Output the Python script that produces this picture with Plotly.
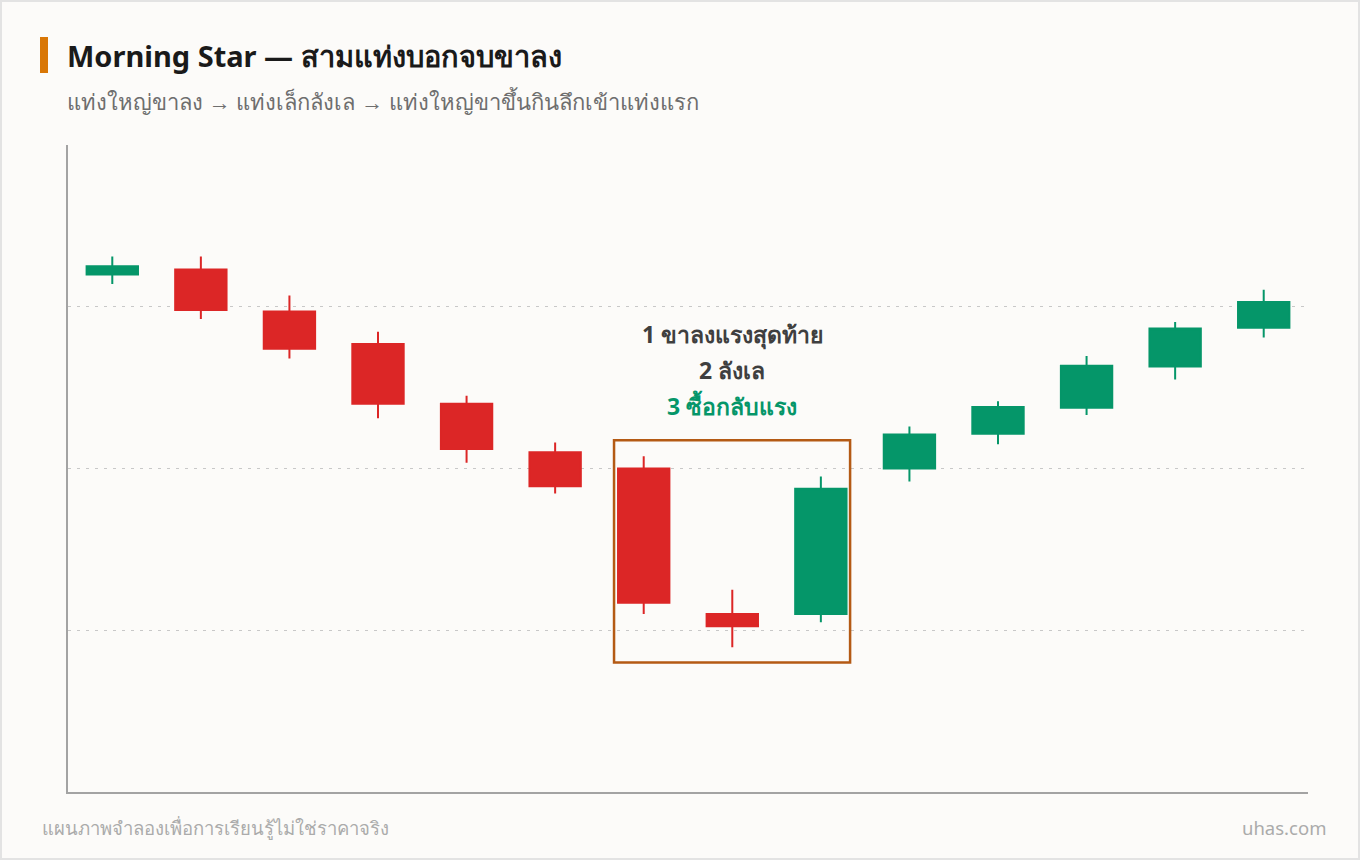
import plotly.graph_objects as go

# candle data (index 0..13)
idx = list(range(14))
opens = [112.0, 112.3, 109.7, 107.7, 104.0, 101.0, 100.0, 91.0, 91.0, 100.0, 102.15, 103.75, 106.3, 108.7]
highs = [113.1, 113.1, 110.7, 108.45, 104.5, 101.6, 100.75, 92.5, 99.5, 102.6, 104.15, 106.95, 109.05, 111.05]
lows = [111.4, 109.25, 106.8, 103.1, 100.35, 98.45, 91.0, 88.95, 90.5, 99.2, 101.5, 103.3, 105.5, 108.1]
closes = [112.5, 109.8, 107.4, 104.0, 101.2, 98.9, 91.7, 90.25, 98.75, 102.1, 103.8, 106.35, 108.65, 110.3]

pattern = [6, 7, 8]  # morning star candles
notes = ["1 ขาลงแรงสุดท้าย", "2 ลังเล", "3 ซื้อกลับแรง"]

title = "Morning Star — สามแท่งบอกจบขาลง"
subtitle = "แท่งใหญ่ขาลง → แท่งเล็กลังเล → แท่งใหญ่ขาขึ้นกินลึกเข้าแท่งแรก"
footer_l = "แผนภาพจำลองเพื่อการเรียนรู้ไม่ใช่ราคาจริง"
footer_r = "uhas.com"

RED = "#dc2626"
GREEN = "#059669"
BG = "#fcfbf9"
FONT = "Noto Sans, sans-serif"

W, H = 1360, 860
ML, MR, MT, MB = 68, 52, 145, 68
PW, PH = W - ML - MR, H - MT - MB

fig = go.Figure(go.Candlestick(
    x=idx, open=opens, high=highs, low=lows, close=closes,
    increasing=dict(line=dict(color=GREEN, width=2), fillcolor=GREEN),
    decreasing=dict(line=dict(color=RED, width=2), fillcolor=RED),
    whiskerwidth=0,
    hoverinfo="skip",
    showlegend=False,
))

# highlight box around the pattern
bx0 = min(pattern) - 0.335
bx1 = max(pattern) + 0.33
by0 = min(lows[i] for i in pattern) - 0.95
by1 = max(highs[i] for i in pattern) + 1.0
fig.add_shape(type="rect", x0=bx0, x1=bx1, y0=by0, y1=by1,
              line=dict(color="#b45a14", width=2.5), layer="above")

mid = pattern[1]
for k, (t, shift) in enumerate(zip(notes, [106, 70, 34])):
    fig.add_annotation(x=mid, y=by1, yshift=shift, text="<b>%s</b>" % t,
                       showarrow=False, yanchor="middle",
                       font=dict(size=23, family=FONT,
                                 color=GREEN if k == 2 else "#3f3f3f"))

# title marker bar
fig.add_shape(type="rect", xref="paper", yref="paper",
              x0=(40 - ML) / PW, x1=(48 - ML) / PW,
              y0=1 + (MT - 73) / PH, y1=1 + (MT - 37) / PH,
              fillcolor="#d97706", line=dict(width=0))

# outer frame
fig.add_shape(type="rect", xref="paper", yref="paper",
              x0=(1 - ML) / PW, x1=1 + (MR - 1) / PW,
              y0=-(MB - 1) / PH, y1=1 + (MT - 1) / PH,
              line=dict(color="#e3e3e3", width=2))

fig.add_annotation(xref="paper", yref="paper", x=(65 - ML) / PW, y=1 + (MT - 56) / PH,
                   text="<b>%s</b>" % title, showarrow=False, xanchor="left", yanchor="middle",
                   font=dict(size=29, family=FONT, color="#1a1a1a"))
fig.add_annotation(xref="paper", yref="paper", x=(65 - ML) / PW, y=1 + (MT - 101) / PH,
                   text=subtitle, showarrow=False, xanchor="left", yanchor="middle",
                   font=dict(size=22, family=FONT, color="#6e6e6e"))
fig.add_annotation(xref="paper", yref="paper", x=(40 - ML) / PW, y=-(827 - (H - MB)) / PH,
                   text=footer_l, showarrow=False, xanchor="left", yanchor="middle",
                   font=dict(size=18.5, family=FONT, color="#ababab"))
fig.add_annotation(xref="paper", yref="paper", x=1 + (1328 - (W - MR)) / PW, y=-(827 - (H - MB)) / PH,
                   text=footer_r, showarrow=False, xanchor="right", yanchor="middle",
                   font=dict(size=18.5, family=FONT, color="#ababab"))

fig.update_layout(
    width=W, height=H,
    margin=dict(l=ML, r=MR, t=MT, b=MB),
    paper_bgcolor=BG, plot_bgcolor=BG,
    boxgap=0.42, boxgroupgap=0,
    font=dict(family=FONT),
    xaxis=dict(range=[-0.5, 13.5], showgrid=False, zeroline=False,
               showticklabels=False, ticks="", rangeslider=dict(visible=False),
               showline=True, linecolor="#a3a3a3", linewidth=2),
    yaxis=dict(range=[80, 120], tickvals=[90, 100, 110], showticklabels=False,
               ticks="", zeroline=False, showgrid=True, gridcolor="#c8c8c8",
               griddash="3px,6px", gridwidth=1,
               showline=True, linecolor="#a3a3a3", linewidth=2),
)

# drop the browser's default body margin so the figure sits at 0,0
fig.write_html("out.html", config={"displayModeBar": False},
               post_script="document.body.style.margin='0';")
